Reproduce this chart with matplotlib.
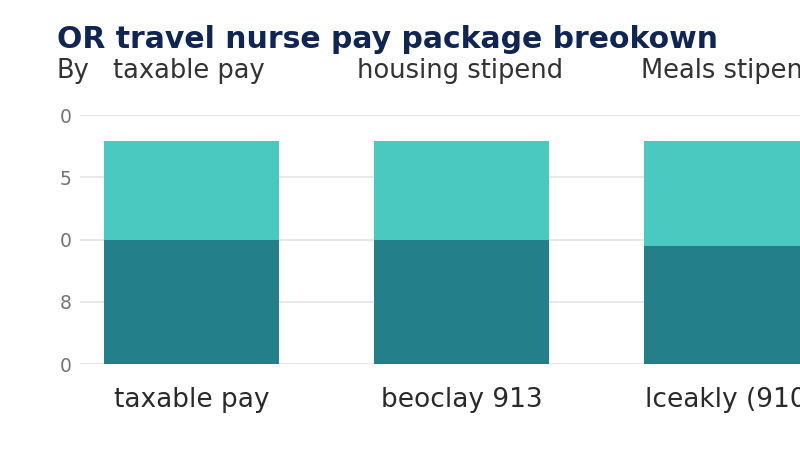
import matplotlib
matplotlib.use('Agg')
import matplotlib.pyplot as plt
import numpy as np

# chart values
categories = ['taxable pay', 'beoclay 913', 'lceakly (910)']
base_part = [20.0, 20.0, 19.0]
top_part = [15.8, 15.8, 16.8]
ytick_vals = [0, 10, 20, 30, 40]
ytick_labels = ['0', '8', '0', '5', '0']
subtitle_parts = ['By', 'taxable pay', 'housing stipend', 'Meals stipend']

plt.rcParams['font.family'] = ['DejaVu Sans']

fig = plt.figure(figsize=(8, 4.5), dpi=100)
ax = fig.add_axes([0.10, 0.191, 0.90, 0.553])

x = np.arange(len(categories))
width = 0.648
ax.bar(x, base_part, width, color='#23808a', zorder=2)
ax.bar(x, top_part, width, bottom=base_part, color='#4ac9c0', zorder=2)

ax.set_xlim(-0.413, 2.254)
ax.set_ylim(0, 40)
ax.set_yticks(ytick_vals)
ax.set_yticklabels(ytick_labels, color='#757575', fontsize=13.5)
ax.grid(axis='y', color='#e4e4e4', linewidth=1.2, zorder=0)
ax.tick_params(axis='y', length=0, pad=6)
ax.set_xticks([])
for s in ax.spines.values():
    s.set_visible(False)

# category labels under the bars (third one starts at its bar's left edge,
# and runs off the right side like in the reference)
xform = ax.get_xaxis_transform()
label_y = -0.145
ax.text(x[0], label_y, categories[0], transform=xform, ha='center', va='center',
        fontsize=19, color='#2a2a2a')
ax.text(x[1], label_y, categories[1], transform=xform, ha='center', va='center',
        fontsize=19, color='#2a2a2a')
ax.text(x[2] - width / 2 + 0.005, label_y, categories[2], transform=xform,
        ha='left', va='center', fontsize=19, color='#2a2a2a')

fig.text(0.071, 0.912, 'OR travel nurse pay package breokown', fontsize=21.5,
         fontweight='bold', color='#0f2554', va='center')
sub_x = [0.071, 0.141, 0.446, 0.801]
for px, t in zip(sub_x, subtitle_parts):
    fig.text(px, 0.842, t, fontsize=18.5, color='#333333', va='center')

fig.savefig('out.png', dpi=100)
